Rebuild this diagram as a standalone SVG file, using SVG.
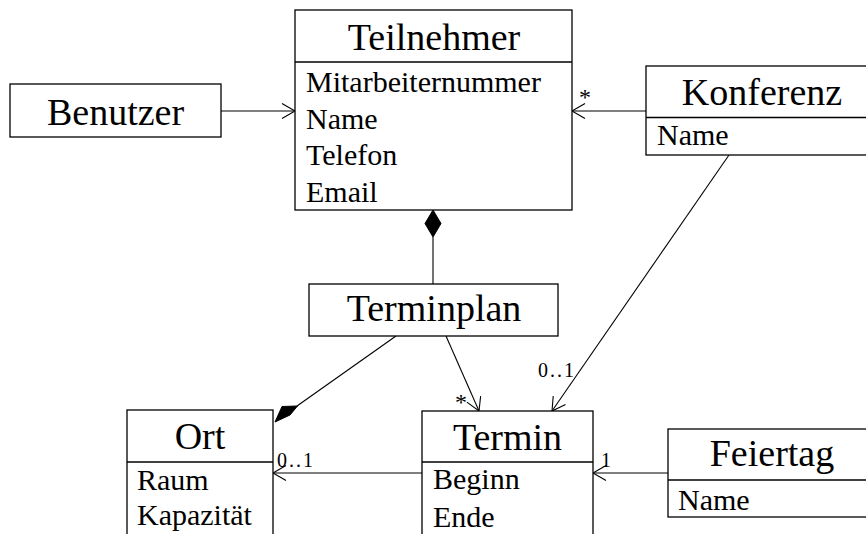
<svg xmlns="http://www.w3.org/2000/svg" width="866" height="534" viewBox="0 0 866 534">
  <style>
    .box { fill: #ffffff; stroke: #000000; stroke-width: 1.3; }
    .sep { stroke: #000000; stroke-width: 1.3; }
    .title { font-family: "Liberation Serif", "DejaVu Serif", serif; font-size: 38px; fill: #000000; text-anchor: middle; }
    .attr { font-family: "Liberation Serif", "DejaVu Serif", serif; font-size: 30px; fill: #000000; }
    .mult { font-family: "Liberation Serif", "DejaVu Serif", serif; font-size: 20px; fill: #000000; }
    .star { font-family: "Liberation Serif", "DejaVu Serif", serif; font-size: 24px; fill: #000000; }
    .edge { fill: none; stroke: #000000; stroke-width: 1.1; }
    .comp { fill: #000000; stroke: #000000; stroke-width: 1; }
  </style>
  <defs>
    <marker id="open" markerUnits="userSpaceOnUse" markerWidth="20" markerHeight="20" viewBox="-16 -10 20 20" refX="0" refY="0" orient="auto">
      <path d="M -13 -7.5 L 0 0 L -13 7.5" fill="none" stroke="#000000" stroke-width="1.1"/>
    </marker>
  </defs>
  <rect width="866" height="534" fill="#ffffff"/>

  <!-- associations, compositions and multiplicities -->
  <g id="connectors">
    <line class="edge" x1="221" y1="111" x2="295" y2="111" marker-end="url(#open)"/>
    <line class="edge" x1="646" y1="111" x2="572" y2="111" marker-end="url(#open)"/>
    <text class="star" x="579" y="105">*</text>
    <line class="edge" x1="729" y1="155" x2="552" y2="411" marker-end="url(#open)"/>
    <text class="mult" x="538" y="377" textLength="36">0..1</text>
    <polygon class="comp" points="433,210 441,223.5 433,237 425,223.5"/>
    <line class="edge" x1="433" y1="237" x2="433" y2="284"/>
    <line class="edge" x1="446" y1="336" x2="479" y2="411" marker-end="url(#open)"/>
    <text class="star" x="455" y="410">*</text>
    <line class="edge" x1="396" y1="336" x2="297" y2="406"/>
    <polygon class="comp" points="282,406.5 297.5,406 290,415 275,422"/>
    <line class="edge" x1="422" y1="473" x2="273" y2="473" marker-end="url(#open)"/>
    <text class="mult" x="277" y="467" textLength="36">0..1</text>
    <line class="edge" x1="668" y1="473" x2="593" y2="473" marker-end="url(#open)"/>
    <text class="mult" x="601" y="467">1</text>
  </g>

  <!-- classes -->
  <g id="teilnehmer">
    <rect class="box" x="295" y="10" width="277" height="200"/>
    <line class="sep" x1="295" y1="62" x2="572" y2="62"/>
    <text class="title" x="434" y="50">Teilnehmer</text>
    <text class="attr" x="306" y="92">Mitarbeiternummer</text>
    <text class="attr" x="306" y="129">Name</text>
    <text class="attr" x="306" y="165">Telefon</text>
    <text class="attr" x="306" y="202">Email</text>
  </g>

  <g id="benutzer">
    <rect class="box" x="10" y="84" width="211" height="53"/>
    <text class="title" x="115.5" y="125">Benutzer</text>
  </g>

  <g id="konferenz">
    <rect class="box" x="646" y="66" width="232" height="89"/>
    <line class="sep" x1="646" y1="117.5" x2="878" y2="117.5"/>
    <text class="title" x="762" y="105">Konferenz</text>
    <text class="attr" x="657" y="145">Name</text>
  </g>

  <g id="terminplan">
    <rect class="box" x="309" y="284" width="249" height="52"/>
    <text class="title" x="434" y="321">Terminplan</text>
  </g>

  <g id="ort">
    <rect class="box" x="127" y="410" width="146" height="140"/>
    <line class="sep" x1="127" y1="462" x2="273" y2="462"/>
    <text class="title" x="200" y="449">Ort</text>
    <text class="attr" x="137" y="490">Raum</text>
    <text class="attr" x="137" y="525">Kapazität</text>
  </g>

  <g id="termin">
    <rect class="box" x="422" y="411" width="171" height="140"/>
    <line class="sep" x1="422" y1="462" x2="593" y2="462"/>
    <text class="title" x="507.5" y="450">Termin</text>
    <text class="attr" x="433" y="489">Beginn</text>
    <text class="attr" x="433" y="527">Ende</text>
  </g>

  <g id="feiertag">
    <rect class="box" x="668" y="429" width="208" height="88"/>
    <line class="sep" x1="668" y1="480" x2="876" y2="480"/>
    <text class="title" x="772" y="466">Feiertag</text>
    <text class="attr" x="678" y="510">Name</text>
  </g>
</svg>
